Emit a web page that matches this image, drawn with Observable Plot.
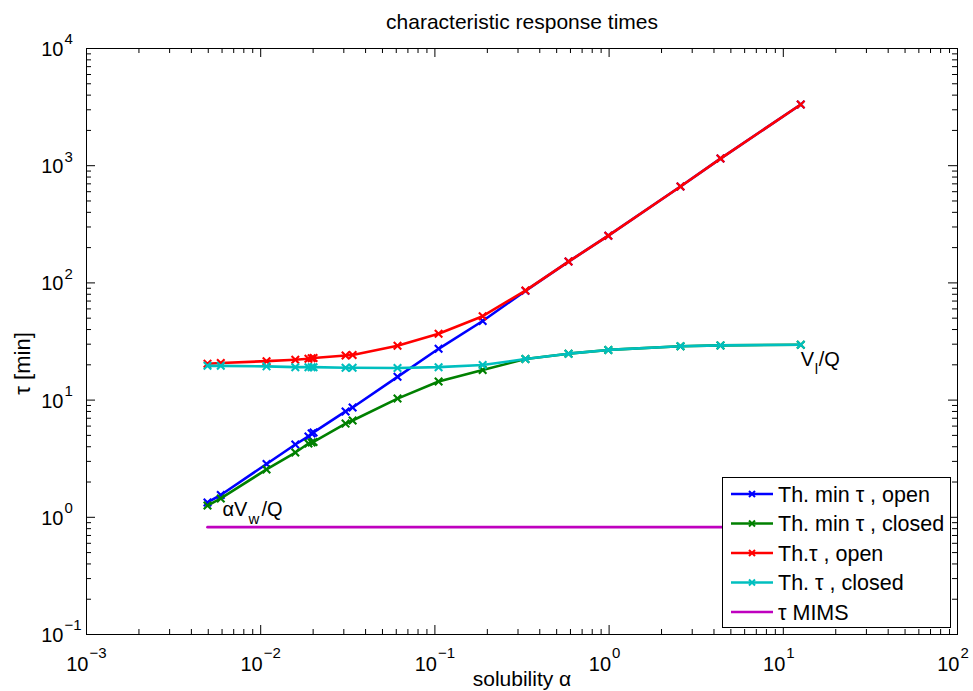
<!DOCTYPE html>
<html><head><meta charset="utf-8">
<script src="https://cdn.jsdelivr.net/npm/d3@7"></script>
<script src="https://cdn.jsdelivr.net/npm/@observablehq/plot@0.6"></script>
<style>
body{margin:0;background:#fff;}
#wrap{position:relative;width:973px;height:691px;font-family:"Liberation Sans",Arial,Helvetica,sans-serif;}
#legend{position:absolute;left:722px;top:477px;}
</style></head><body><div id="wrap"></div>
<script>
// ---- data ----
const alpha = [0.00495, 0.0059, 0.0108, 0.0158, 0.0188, 0.0196, 0.0201, 0.0307, 0.0337, 0.061, 0.105, 0.188, 0.331, 0.585, 0.99, 2.57, 4.36, 12.6];
const tauMinOpen   = [1.34, 1.55, 2.85, 4.18, 4.9, 5.2, 5.3, 8.0, 8.65, 15.8, 27.4, 47.3, 85.5, 152, 253, 665, 1150, 3330];
const tauMinClosed = [1.26, 1.45, 2.56, 3.57, 4.26, 4.35, 4.4, 6.3, 6.7, 10.3, 14.4, 18.1, 22.4, 24.9, 26.8, 28.8, 29.3, 29.7];
const tauOpen      = [20.4, 20.7, 21.5, 22.1, 22.5, 22.8, 22.9, 24.0, 24.3, 29.1, 36.8, 52.0, 86, 152, 253, 665, 1150, 3330];
const tauClosed    = [19.6, 19.6, 19.4, 19.1, 19.1, 19.1, 19.1, 18.9, 18.9, 18.8, 19.1, 19.9, 22.4, 24.9, 26.8, 28.8, 29.3, 29.7];
const mimsAlpha = [0.00495, 12.6];
const mimsTau   = [0.824, 0.824];
const seriesNames  = ["Th. min τ , open", "Th. min τ , closed", "Th.τ , open", "Th. τ , closed", "τ MIMS"];
const seriesColors = ["#0000ff", "#008000", "#ff0000", "#00bfbf", "#bf00bf"];
const xTickExps = [-3, -2, -1, 0, 1, 2];
const yTickExps = [-1, 0, 1, 2, 3, 4];
const titleText = "characteristic response times";
const xLabel = "solubility α";
const yLabel = "τ [min]";
const noteAlpha = [0.00604, 12.6];
const noteTau   = [1.03, 19.4];

// ---- layout ----
const W = 973, H = 691, mL = 86, mR = 16, mT = 48, mB = 57;
const xDecPx = (W - mL - mR) / 5, yDecPx = (H - mT - mB) / 5;
const kx = px => Math.pow(10, px / xDecPx);
const ky = px => Math.pow(10, px / yDecPx);
const xMin = Math.pow(10, xTickExps[0]), xMax = Math.pow(10, xTickExps[xTickExps.length - 1]);
const yMin = Math.pow(10, yTickExps[0]), yMax = Math.pow(10, yTickExps[yTickExps.length - 1]);
const xMajor = xTickExps.map(e => Math.pow(10, e));
const yMajor = yTickExps.map(e => Math.pow(10, e));
const minorOf = exps => exps.slice(0, -1).flatMap(e => d3.range(2, 10).map(m => m * Math.pow(10, e)));
const xMinor = minorOf(xTickExps), yMinor = minorOf(yTickExps);
const expStr = e => e < 0 ? "\u2212" + (-e) : String(e);

const rows = ys => alpha.map((a, i) => ({a, t: ys[i]}));
const seriesData = [tauMinOpen, tauMinClosed, tauOpen, tauClosed].map(rows);
const mims = mimsAlpha.map((a, i) => ({a, t: mimsTau[i]}));

const MAJ = 9, MIN = 5;
const tickMarks = (xs, yLen) => [
  Plot.ruleX(xs, {x: d => d, y1: yMin, y2: yMin * ky(yLen), stroke: "#000", strokeWidth: 1}),
  Plot.ruleX(xs, {x: d => d, y1: yMax, y2: yMax / ky(yLen), stroke: "#000", strokeWidth: 1})
];
const tickMarksY = (ys, xLen) => [
  Plot.ruleY(ys, {y: d => d, x1: xMin, x2: xMin * kx(xLen), stroke: "#000", strokeWidth: 1}),
  Plot.ruleY(ys, {y: d => d, x1: xMax, x2: xMax / kx(xLen), stroke: "#000", strokeWidth: 1})
];

const seriesMarks = seriesData.flatMap((d, i) => [
  Plot.line(d, {x: "a", y: "t", stroke: seriesColors[i], strokeWidth: 2.6}),
  Plot.dot(d, {x: "a", y: "t", symbol: "times", r: 3.5, stroke: seriesColors[i], strokeWidth: 2.1})
]);

const FONT = "'Liberation Sans', Arial, Helvetica, sans-serif";
const chart = Plot.plot({
  width: W, height: H,
  marginLeft: mL, marginRight: mR, marginTop: mT, marginBottom: mB,
  style: {fontFamily: FONT, background: "#fff", color: "#000"},
  x: {type: "log", domain: [xMin, xMax], axis: null},
  y: {type: "log", domain: [yMin, yMax], axis: null},
  marks: [
    ...seriesMarks,
    Plot.line(mims, {x: "a", y: "t", stroke: seriesColors[4], strokeWidth: 2.6}),
    ...tickMarks(xMinor, MIN), ...tickMarks(xMajor, MAJ),
    ...tickMarksY(yMinor, MIN), ...tickMarksY(yMajor, MAJ),
    Plot.frame({stroke: "#000", strokeWidth: 1}),
    // x tick labels
    Plot.text(xTickExps, {x: e => Math.pow(10, e), y: yMin, text: () => "10", textAnchor: "end", lineAnchor: "middle", dx: 2, dy: 30, fontSize: 20, fill: "#000"}),
    Plot.text(xTickExps, {x: e => Math.pow(10, e), y: yMin, text: expStr, textAnchor: "start", lineAnchor: "middle", dx: 3, dy: 19, fontSize: 15, fill: "#000"}),
    // y tick labels
    Plot.text(yTickExps, {x: xMin, y: e => Math.pow(10, e), text: () => "10", textAnchor: "end", lineAnchor: "middle", dx: -23, dy: 1, fontSize: 20, fill: "#000"}),
    Plot.text(yTickExps, {x: xMin, y: e => Math.pow(10, e), text: expStr, textAnchor: "start", lineAnchor: "middle", dx: -22, dy: -9, fontSize: 15, fill: "#000"}),
    // title and axis labels
    Plot.text([titleText], {frameAnchor: "top", text: d => d, lineAnchor: "middle", dy: -26, fontSize: 21, fill: "#000"}),
    Plot.text([xLabel], {frameAnchor: "bottom", text: d => d, lineAnchor: "bottom", dy: 51, fontSize: 21, fill: "#000"}),
    Plot.text([yLabel], {x: () => xMin / kx(64), y: () => Math.sqrt(yMin * yMax) / ky(22), text: d => d, textAnchor: "middle", lineAnchor: "middle", rotate: -90, fontSize: 22, fill: "#000"}),
    // annotations  αV_w/Q  and  V_l/Q
    Plot.text([0], {x: () => noteAlpha[0], y: () => noteTau[0], text: () => "αV", textAnchor: "start", lineAnchor: "bottom", fontSize: 20, fill: "#000"}),
    Plot.text([0], {x: () => noteAlpha[0], y: () => noteTau[0], text: () => "w", textAnchor: "start", lineAnchor: "bottom", dx: 26, dy: 8, fontSize: 15, fill: "#000"}),
    Plot.text([0], {x: () => noteAlpha[0], y: () => noteTau[0], text: () => "/Q", textAnchor: "start", lineAnchor: "bottom", dx: 39, fontSize: 20, fill: "#000"}),
    Plot.text([0], {x: () => noteAlpha[1], y: () => noteTau[1], text: () => "V", textAnchor: "start", lineAnchor: "bottom", fontSize: 20, fill: "#000"}),
    Plot.text([0], {x: () => noteAlpha[1], y: () => noteTau[1], text: () => "l", textAnchor: "start", lineAnchor: "bottom", dx: 14, dy: 8, fontSize: 15, fill: "#000"}),
    Plot.text([0], {x: () => noteAlpha[1], y: () => noteTau[1], text: () => "/Q", textAnchor: "start", lineAnchor: "bottom", dx: 18, fontSize: 20, fill: "#000"})
  ]
});
const wrap = document.getElementById("wrap");
wrap.appendChild(chart);

// ---- legend (overlay box) ----
const LW = 228, LH = 150, rowH = 29.5, row0 = 17;
const leg = d3.select(wrap).append("svg").attr("id", "legend").attr("width", LW + 1).attr("height", LH + 1);
leg.append("rect").attr("x", 0.5).attr("y", 0.5).attr("width", LW).attr("height", LH).attr("fill", "#fff").attr("stroke", "#000");
seriesNames.forEach((name, i) => {
  const cy = row0 + i * rowH;
  const g = leg.append("g").attr("transform", `translate(0,${cy})`);
  g.append("line").attr("x1", 9).attr("x2", 51).attr("y1", 0).attr("y2", 0).attr("stroke", seriesColors[i]).attr("stroke-width", 2.6);
  if (i < 4) {
    g.append("path").attr("d", "M27,-3L33,3M27,3L33,-3").attr("stroke", seriesColors[i]).attr("stroke-width", 2);
  }
  g.append("text").attr("x", 56).attr("y", 0).attr("dy", "0.35em").attr("font-size", 21.5).attr("fill", "#000")
    .attr("font-family", FONT).text(name);
});
</script>
</body></html>
